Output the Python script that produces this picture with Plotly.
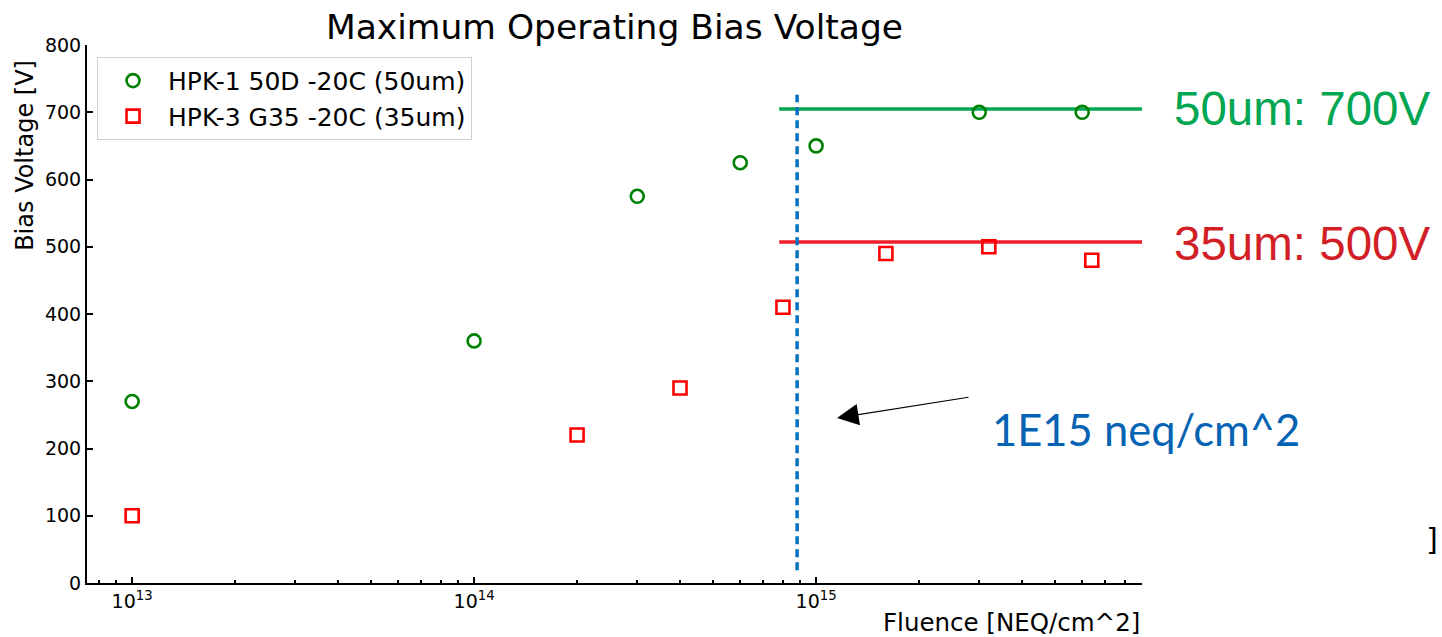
import plotly.graph_objects as go

# ---- data ----
fluence_50 = [1e13, 1e14, 3e14, 6e14, 1e15, 3e15, 6e15]
vbias_50 = [270, 360, 575, 625, 650, 700, 700]
fluence_35 = [1e13, 2e14, 4e14, 8e14, 1.6e15, 3.2e15, 6.4e15]
vbias_35 = [100, 220, 290, 410, 490, 500, 480]

limit_x = [7.8e14, 9.0e15]
limit_50 = [705, 705]
limit_35 = [507, 507]

marker_x = [8.8e14, 8.8e14]
marker_y = [19, 726]

x_major = [1e13, 1e14, 1e15]
x_major_text = ["10<sup>13</sup>", "10<sup>14</sup>", "10<sup>15</sup>"]
x_minor = [m * 10 ** e for e in (12, 13, 14, 15) for m in range(2, 10)]
y_ticks = [0, 100, 200, 300, 400, 500, 600, 700, 800]

label_50 = "HPK-1 50D -20C (50um)"
label_35 = "HPK-3 G35 -20C (35um)"

BASE = "DejaVu Sans"

fig = go.Figure()
fig.add_trace(go.Scatter(
    x=limit_x, y=limit_50, mode="lines", line=dict(color="#00a651", width=3.5),
    showlegend=False, hoverinfo="skip"))
fig.add_trace(go.Scatter(
    x=limit_x, y=limit_35, mode="lines", line=dict(color="#ee1f2b", width=3.5),
    showlegend=False, hoverinfo="skip"))
fig.add_trace(go.Scatter(
    x=marker_x, y=marker_y, mode="lines",
    line=dict(color="#0070c0", width=3.5, dash="8px,5px"),
    showlegend=False, hoverinfo="skip"))
fig.add_trace(go.Scatter(
    x=fluence_50, y=vbias_50, mode="markers", name=label_50,
    marker=dict(symbol="circle-open", size=13, color="#008000",
                line=dict(width=2.6, color="#008000"))))
fig.add_trace(go.Scatter(
    x=fluence_35, y=vbias_35, mode="markers", name=label_35,
    marker=dict(symbol="square-open", size=13, color="#ff0000",
                line=dict(width=2.6, color="#ff0000"))))

fig.update_layout(
    width=1442, height=637,
    margin=dict(l=87, r=300, t=45, b=54),
    paper_bgcolor="white", plot_bgcolor="white",
    font=dict(family=BASE, color="black", size=19),
    title=dict(text="Maximum Operating Bias Voltage", x=0.5, xref="paper",
               y=1 - 27 / 637, yanchor="middle", font=dict(size=34.5, family=BASE)),
    showlegend=True,
    legend=dict(x=0.0095, y=0.978, xanchor="left", yanchor="top",
                bordercolor="#d0d0d0", borderwidth=1, bgcolor="white",
                font=dict(size=25, family=BASE), itemwidth=60),
)

fig.update_xaxes(
    type="log", range=[12.868, 15.953],
    showline=True, linecolor="black", linewidth=2, mirror=False,
    showgrid=False, zeroline=False,
    tickmode="array", tickvals=x_major, ticktext=x_major_text,
    ticks="inside", ticklen=6, tickwidth=2, tickcolor="black",
    tickfont=dict(size=19, family=BASE),
    minor=dict(tickmode="array", tickvals=x_minor, ticks="inside",
               ticklen=3, tickwidth=2, tickcolor="black", showgrid=False),
)
fig.update_yaxes(
    range=[0, 800],
    showline=True, linecolor="black", linewidth=2, mirror=False,
    showgrid=False, zeroline=False,
    tickmode="array", tickvals=y_ticks,
    ticks="inside", ticklen=6, tickwidth=2, tickcolor="black",
    tickfont=dict(size=19, family=BASE),
)

annotations = [
    dict(text="Bias Voltage [V]", textangle=-90, xref="paper", yref="paper",
         x=-0.0588, y=0.977, xanchor="center", yanchor="top", showarrow=False,
         font=dict(size=24, family=BASE)),
    dict(text="Fluence [NEQ/cm^2]", xref="paper", yref="paper",
         x=1.0, y=-0.0743, xanchor="right", yanchor="middle", showarrow=False,
         font=dict(size=24.5, family=BASE)),
    dict(text="50um: 700V", xref="paper", yref="y", x=1.0285, y=705,
         xanchor="left", yanchor="middle", showarrow=False,
         font=dict(size=47.5, family="Liberation Sans", color="#00a651")),
    dict(text="35um: 500V", xref="paper", yref="y", x=1.0285, y=505,
         xanchor="left", yanchor="middle", showarrow=False,
         font=dict(size=47.5, family="Liberation Sans", color="#d21f27")),
    dict(text="1E15 neq/cm^2", xref="paper", yref="y", x=0.8555, y=229,
         xanchor="left", yanchor="middle", showarrow=False,
         font=dict(size=43.5, family="Lato", color="#0563b4")),
    dict(text="", xref="paper", yref="paper", x=0.7109, y=0.3067,
         showarrow=True, ax=133, ay=-21, arrowhead=2, arrowsize=3.6,
         arrowwidth=1.2, arrowcolor="black"),
    dict(text="]", xref="paper", yref="y", x=1.2755, y=64,
         xanchor="center", yanchor="middle", showarrow=False,
         font=dict(size=30, family="DejaVu Sans Mono", color="black")),
]
fig.update_layout(annotations=annotations)

fig.write_html("out.html")
